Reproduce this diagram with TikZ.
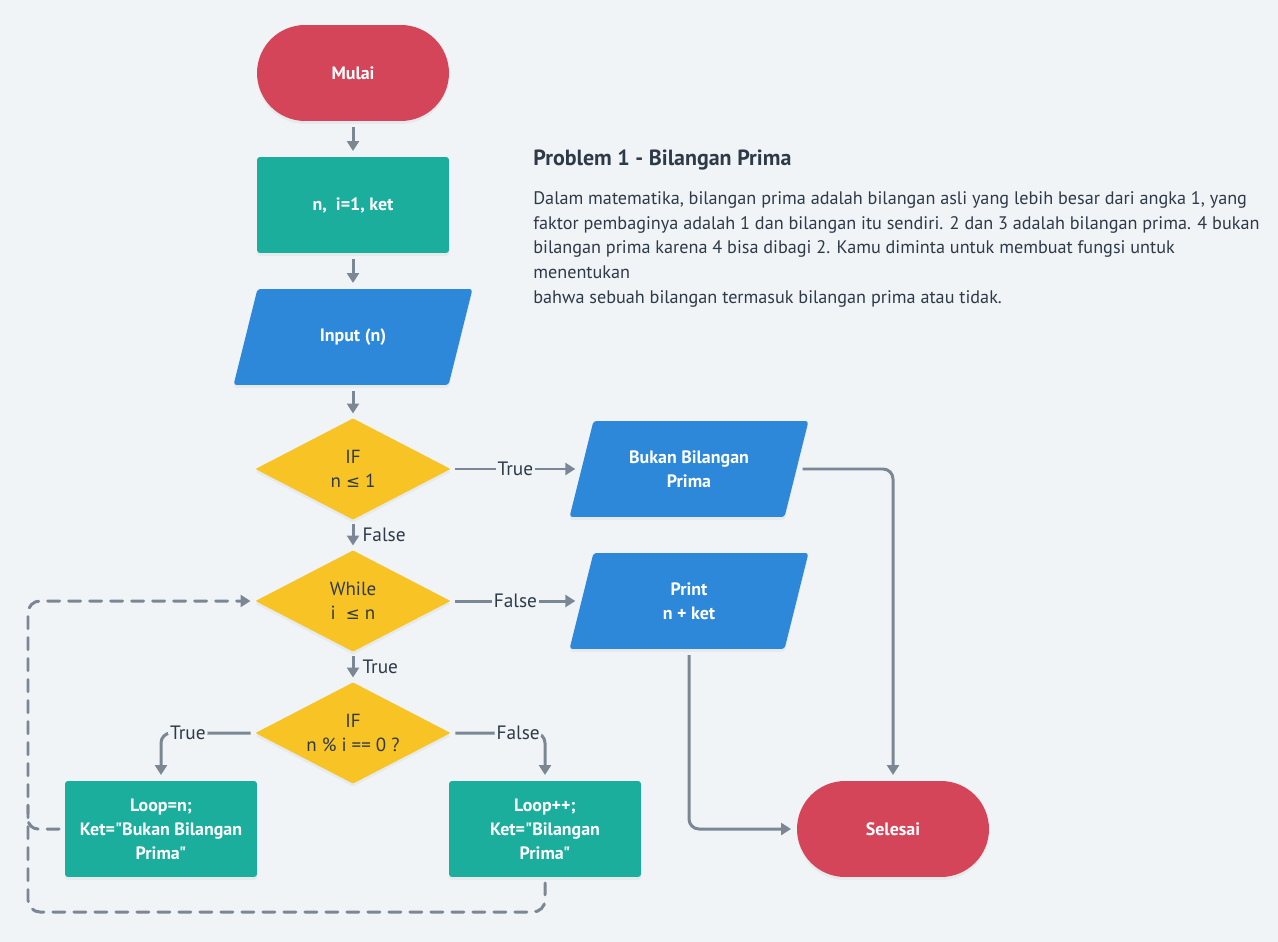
\documentclass[tikz,border=0pt]{standalone}
\usepackage{fontspec}
\setmainfont{PT Sans}[Ligatures=TeXOff]
\newfontfamily\simbol{DejaVu Sans}
\usetikzlibrary{shapes.geometric, arrows.meta, shadows}

\definecolor{latar}{HTML}{F0F4F7}
\definecolor{merah}{HTML}{D44559}
\definecolor{hijau}{HTML}{1BAE9D}
\definecolor{biru}{HTML}{2E88DA}
\definecolor{kuning}{HTML}{F8C324}
\definecolor{abu}{HTML}{7B8794}
\definecolor{teks}{HTML}{2E3A48}

\newcommand{\kecil}{{\simbol\fontsize{9.5}{10}\selectfont ≤}}

\begin{document}
\begin{tikzpicture}[x=0.02cm, y=-0.02cm,
  font=\fontsize{10.5}{13}\selectfont,
  bayang/.style={drop shadow={opacity=0.08, shadow xshift=0cm, shadow yshift=-0.06cm}},
  tulisan/.style={align=center, text=white, font=\fontsize{10.2}{13.6}\selectfont\bfseries},
  dasar/.style={inner sep=0pt, outer sep=0.12cm, tulisan, bayang},
  terminal/.style={dasar, rectangle, rounded corners=0.96cm, fill=merah, minimum width=3.84cm, minimum height=1.92cm},
  proses/.style={dasar, rectangle, rounded corners=0.06cm, fill=hijau, minimum width=3.84cm, minimum height=1.92cm},
  io/.style={dasar, trapezium, trapezium left angle=76, trapezium right angle=104,
    inner xsep=1.911cm, inner ysep=0.96cm, rounded corners=0.06cm, fill=biru,
    label={[tulisan, inner sep=0pt]center:#1}},
  keputusan/.style={dasar, diamond, aspect=2, outer sep=0.07cm, rounded corners=0.02cm, fill=kuning, text=teks,
    font=\fontsize{10.8}{13.6}\selectfont, minimum width=3.96cm, minimum height=2.08cm},
  alur/.style={draw=abu, line width=0.06cm, -{Triangle[length=0.2cm, width=0.24cm]}},
  putus/.style={alur, dash pattern=on 0.24cm off 0.18cm, line cap=round},
  ket/.style={fill=latar, text=teks, inner sep=0.04cm, font=\fontsize{11}{13}\selectfont},
  ketv/.style={ket, fill=none, right, xshift=0.12cm}]

  % latar belakang
  \fill[latar] (0,0) rectangle (1278,942);
  \useasboundingbox (0,0) rectangle (1278,942);

  % judul dan keterangan
  \node[anchor=base west, inner sep=0pt, text=teks, font=\fontsize{12.5}{15}\selectfont\bfseries] (judul) at (533,166) {Problem 1 - Bilangan Prima};
  \node[anchor=north west, align=left, text=teks, inner sep=0pt, font=\fontsize{10.35}{14.1}\selectfont] (deskripsi) at (533,191)
    {Dalam matematika, bilangan prima adalah bilangan asli yang lebih besar dari angka 1, yang\\
     faktor pembaginya adalah 1 dan bilangan itu sendiri. 2 dan 3 adalah bilangan prima. 4 bukan\\
     bilangan prima karena 4 bisa dibagi 2. Kamu diminta untuk membuat fungsi untuk\\
     menentukan\\
     bahwa sebuah bilangan termasuk bilangan prima atau tidak.};

  % simpul
  \node[terminal] (mulai) at (353,73) {Mulai};
  \node[proses] (awal) at (353,205) {n,~ i=1, ket};
  \node[io={Input (n)}] (masukan) at (353,337) {};
  \node[keputusan] (cek1) at (353,469) {IF\\n \kecil{} 1};
  \node[io={Bukan Bilangan\\Prima}] (bukan) at (689,469) {};
  \node[keputusan] (ulang) at (353,601) {While\\i~ \kecil{} n};
  \node[io={Print\\n + ket}] (cetak) at (689,601) {};
  \node[keputusan] (cek2) at (353,733) {IF\\n \% i == 0 ?};
  \node[proses] (loopn) at (161,829) {Loop=n;\\Ket="Bukan Bilangan\\Prima"};
  \node[proses] (looptambah) at (545,829) {Loop++;\\Ket="Bilangan\\Prima"};
  \node[terminal] (selesai) at (893,829) {Selesai};

  % panah utama
  \draw[alur] (mulai) -- (awal);
  \draw[alur] (awal) -- (masukan);
  \draw[alur] (masukan) -- (cek1);
  \draw[alur] (cek1) -- node[ket] {True} (bukan);
  \draw[alur] (cek1) -- node[ketv] {False} (ulang);
  \draw[alur] (ulang) -- node[ket] {False} (cetak);
  \draw[alur] (ulang) -- node[ketv] {True} (cek2);
  \draw[alur, rounded corners=0.2cm] (cek2.west) -| node[ket, pos=0.35] {True} (loopn.north);
  \draw[alur, rounded corners=0.2cm] (cek2.east) -| node[ket, pos=0.35] {False} (looptambah.north);
  \draw[alur, rounded corners=0.2cm] (bukan.east) -| (selesai.north);
  \draw[alur, rounded corners=0.2cm] (cetak.south) |- (selesai.west);

  % kembali ke while
  \draw[putus, rounded corners=0.24cm] (looptambah.south) |- (28,912) |- (ulang.west);
  \draw[putus, -, rounded corners=0.2cm] (loopn.west) -| (28,805);
\end{tikzpicture}
\end{document}
